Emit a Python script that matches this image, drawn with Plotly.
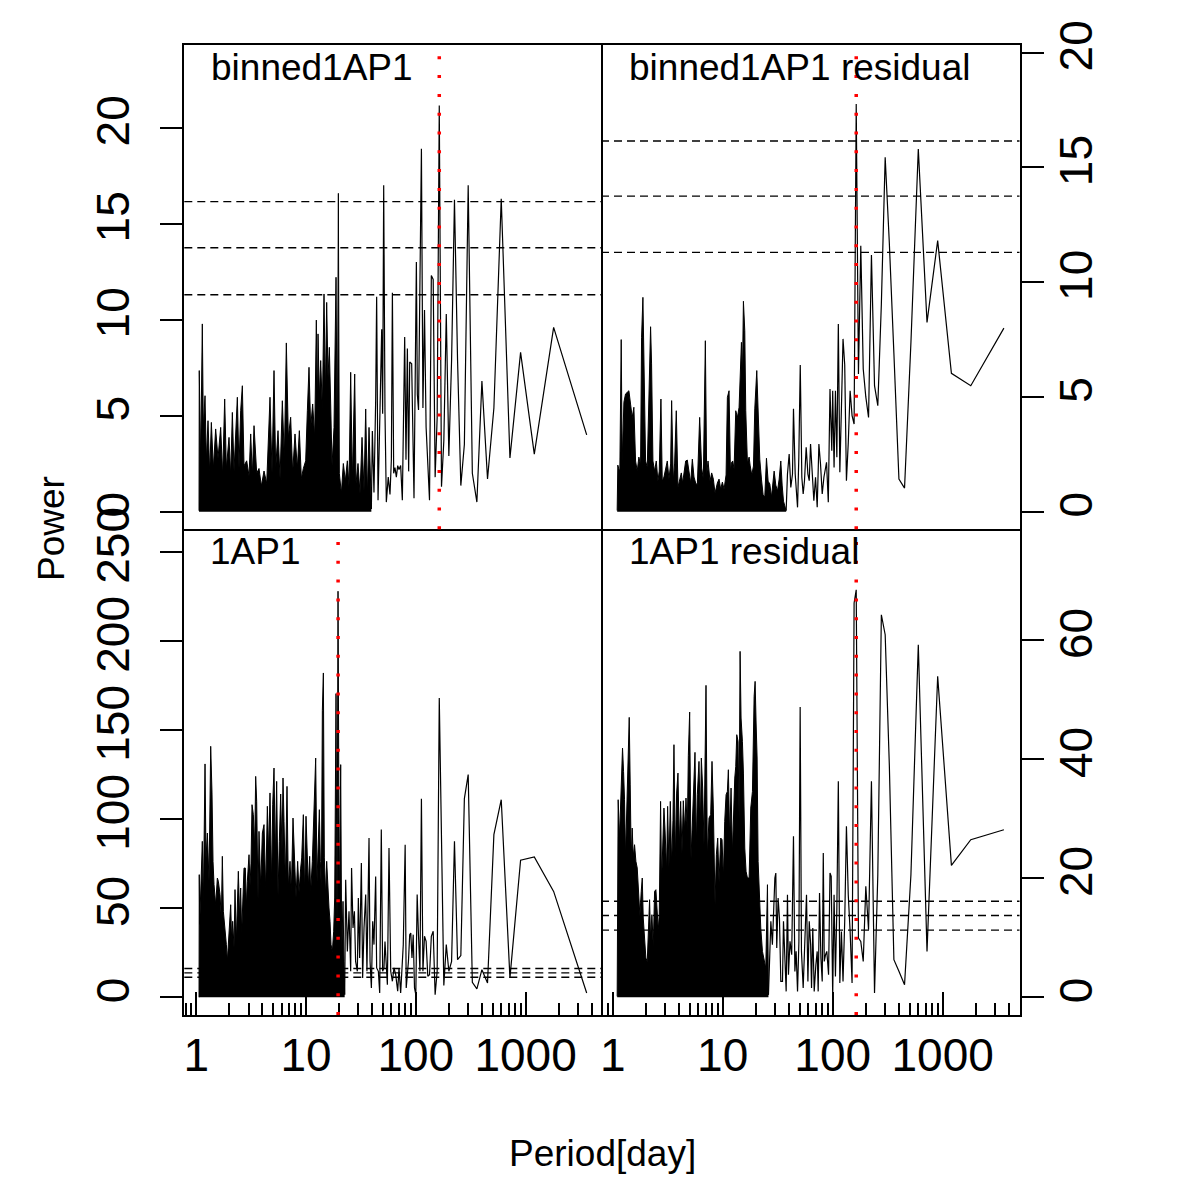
import numpy as np
import plotly.graph_objects as go

# ---------------- data ----------------
thresholds = [11.3, 13.75, 16.15]          # dashed significance levels (all panels)
red_period_tl = 163.6
red_period_tr = 163.6
red_period_bl = 19.6
red_period_br = 163.6

panel_titles = ["binned1AP1", "binned1AP1 residual", "1AP1", "1AP1 residual"]
x_tick_vals = [1, 10, 100, 1000]
x_tick_text = ["1", "10", "100", "1000"]
x_minor_vals = [0.8, 0.9, 2, 3, 4, 5, 6, 7, 8, 9, 20, 30, 40, 50, 60, 70, 80, 90,
                200, 300, 400, 500, 600, 700, 800, 900, 2000, 3000, 4000]
tl_y_ticks = [0, 5, 10, 15, 20]
tr_y_ticks = [0, 5, 10, 15, 20]
bl_y_ticks = [0, 50, 100, 150, 200, 250]
br_y_ticks = [0, 20, 40, 60]

# --- top-left: binned1AP1 ---
tl_dense_period = [1.061, 1.066, 1.098, 1.137, 1.161, 1.203, 1.237, 1.281, 1.327, 1.374, 1.433, 1.504,
                   1.580, 1.671, 1.742, 1.817, 1.882, 1.990, 2.061, 2.134, 2.210, 2.288, 2.370, 2.454,
                   2.541, 2.632, 2.725, 2.882, 3.027, 3.135, 3.246, 3.362, 3.555, 3.733, 3.921, 4.147,
                   4.385, 4.700, 4.904, 5.113, 5.295, 5.560, 5.800, 6.088, 6.349, 6.621, 6.904, 7.250,
                   7.561, 7.940, 8.337, 8.698, 9.070, 9.459, 9.933, 10.29, 10.65, 11.03, 11.50, 11.99,
                   12.42, 12.69, 12.87, 13.23, 13.61, 14.09, 14.59, 15.01, 15.43, 15.87, 16.31, 16.78,
                   17.26, 17.99, 18.77, 19.30, 19.71, 20.12, 20.99, 21.88, 22.82, 23.80, 24.64, 25.52,
                   26.43, 27.76, 28.54, 29.76, 31.04, 32.37, 33.75, 34.96, 36.20, 37.49, 38.82, 39.37]
tl_dense_power = [0.05, 7.35, 2.65, 9.78, 4.39, 6.04, 2.65, 4.74, 2.0, 4.65, 2.25, 4.31,
                  2.78, 4.39, 1.86, 5.87, 2.25, 3.87, 1.86, 5.17, 2.12, 4.4, 5.96, 2.25,
                  5.26, 6.56, 2.39, 2.65, 1.86, 4.05, 1.86, 4.48, 2.0, 2.25, 1.34, 2.12,
                  1.47, 5.96, 2.0, 7.35, 2.25, 4.22, 1.73, 5.78, 2.78, 8.79, 3.87, 4.92,
                  2.0, 4.05, 2.25, 4.22, 1.73, 2.25, 2.65, 5.26, 7.52, 4.39, 5.61, 3.87,
                  9.98, 5.26, 9.26, 5.96, 7.87, 5.26, 11.34, 6.13, 10.9, 7.0, 8.56, 5.61,
                  2.39, 4.39, 12.21, 2.65, 16.58, 2.0, 0.95, 2.51, 1.6, 2.65, 1.34, 7.26,
                  1.6, 7.17, 1.47, 2.51, 0.95, 3.87, 1.08, 5.35, 0.82, 4.39, 0.56, 0.14]
tl_period = [39.37, 40.2, 41.6, 43.1, 44.0, 45.3, 47.2, 48.9, 49.9, 51.0, 52.4, 53.9, 56.1, 58.2, 59.9,
             61.2, 62.9, 64.6, 66.5, 68.4, 70.3, 72.8, 75.4, 79.2, 81.4, 83.8, 86.1, 88.0, 91.7, 96.3,
             101.2, 103.3, 105.9, 112.5, 116.1, 120.0, 124.1, 128.6, 133.3, 138.5, 144.0, 150.0, 156.5,
             163.6, 171.4, 180.0, 189.5, 200.0, 211.8, 225.0, 240.0, 257.1, 276.9, 300.0, 327.3, 360.0,
             400.0, 450.0, 514.3, 600.0, 720.0, 900.0, 1200.0, 1800.0, 3600.0]
tl_power = [0.14, 4.2, 1.0, 5.8, 11.2, 0.6, 5.3, 9.5, 5.1, 17.0, 5.2, 0.5, 1.8, 0.9, 2.7,
            11.4, 2.0, 2.3, 1.8, 2.4, 2.2, 2.4, 0.6, 9.1, 2.7, 8.5, 2.1, 7.8, 7.7, 0.7,
            13.0, 6.1, 5.3, 18.9, 5.4, 10.5, 4.4, 2.0, 0.6, 12.3, 12.1, 1.8, 4.9,
            21.15, 1.3, 3.7, 10.3, 2.9, 7.9, 16.25, 7.9, 1.36, 3.5, 17.0, 2.0, 0.5,
            6.8, 1.7, 5.4, 16.3, 2.8, 8.3, 3.0, 9.6, 4.0]

# --- top-right: binned1AP1 residual ---
tr_dense_period = [1.098, 1.113, 1.137, 1.161, 1.195, 1.220, 1.264, 1.308, 1.355, 1.403, 1.453, 1.504,
                   1.558, 1.614, 1.671, 1.730, 1.792, 1.830, 1.882, 1.921, 1.990, 2.061, 2.134, 2.210,
                   2.256, 2.321, 2.403, 2.489, 2.577, 2.650, 2.744, 2.822, 2.923, 3.027, 3.135, 3.246,
                   3.362, 3.433, 3.555, 3.656, 3.785, 3.921, 4.061, 4.205, 4.324, 4.446, 4.605, 4.768,
                   4.938, 5.113, 5.295, 5.483, 5.678, 5.880, 6.174, 6.437, 6.667, 6.954, 7.150, 7.353,
                   7.667, 7.940, 8.222, 8.516, 8.944, 9.262, 9.591, 9.933, 10.29, 10.73, 11.03, 11.42,
                   11.75, 11.99, 12.33, 12.69, 13.14, 13.61, 14.09, 14.39, 14.80, 15.11, 15.43, 15.87,
                   16.20, 16.78, 17.38, 17.74, 18.38, 19.04, 19.57, 20.41, 20.99, 21.73, 22.50, 23.30,
                   24.13, 24.99, 25.88, 26.80, 27.76, 28.54, 29.35, 30.39, 31.48, 32.60, 33.75, 34.71,
                   35.70, 36.97, 37.75]
tr_dense_power = [0.05, 2.03, 1.86, 1.77, 7.50, 2.21, 4.77, 5.13, 5.20, 5.27, 4.69, 4.11,
                  4.55, 2.21, 1.77, 2.38, 2.03, 7.60, 9.34, 5.86, 2.21, 1.94, 5.13, 8.06,
                  6.44, 2.21, 1.77, 2.21, 1.33, 1.77, 4.91, 1.33, 1.51, 1.86, 2.21, 1.42,
                  2.08, 4.84, 1.33, 2.12, 4.40, 1.07, 1.42, 1.69, 1.25, 1.81, 2.21, 2.25,
                  1.77, 1.25, 2.29, 1.51, 1.25, 1.16, 4.11, 1.90, 1.42, 7.45, 1.60, 2.21,
                  1.33, 1.69, 1.42, 0.81, 1.25, 1.42, 0.98, 1.29, 0.98, 1.60, 4.98, 5.27,
                  1.77, 2.12, 2.21, 1.86, 4.40, 4.11, 4.55, 6.29, 7.38, 5.86, 9.17, 7.89,
                  4.40, 2.12, 2.38, 2.03, 1.60, 1.99, 4.48, 6.15, 4.55, 2.29, 1.42, 0.73,
                  0.64, 2.33, 1.33, 1.21, 0.64, 1.33, 1.77, 1.16, 0.90, 1.42, 2.21, 1.16,
                  0.46, 0.20, 0.05]
tr_period = [37.75, 38.8, 40.2, 41.6, 43.1, 44.0, 45.6, 47.9, 49.2, 50.7, 52.4, 53.9, 55.4, 57.4, 59.5,
             61.2, 62.9, 65.1, 67.4, 69.8, 72.3, 74.9, 77.5, 80.3, 83.2, 87.9, 91.2, 94.5, 98.1, 100.0,
             102.9, 105.9, 109.1, 112.5, 116.1, 120.0, 124.1, 128.6, 133.3, 138.5, 144.0, 150.0, 156.5,
             163.6, 171.4, 180.0, 189.5, 200.0, 211.8, 225.0, 240.0, 257.1, 276.9, 300.0, 327.3, 360.0,
             400.0, 450.0, 514.3, 600.0, 720.0, 900.0, 1200.0, 1800.0, 3600.0]
tr_power = [0.05, 1.64, 2.51, 1.06, 1.64, 4.48, 1.64, 0.19, 2.37, 6.39, 1.50, 0.77, 1.35, 2.81, 1.64,
            1.35, 2.95, 1.50, 0.48, 1.50, 0.19, 2.95, 2.08, 0.77, 1.50, 2.15, 0.41, 5.35, 2.66, 5.27,
            1.93, 5.27, 2.37, 8.18, 1.72, 4.5, 7.53, 6.4, 1.35, 3.0, 5.27, 4.19, 3.82,
            17.77, 6.0, 11.59, 6.22, 5.0, 4.11, 11.19, 5.49, 4.62, 9.05, 15.44, 11.7, 6.9,
            1.42, 1.03, 7.37, 15.8, 8.25, 11.81, 6.03, 5.49, 8.0]

# --- bottom-left: 1AP1 ---
bl_dense_period = [1.061, 1.066, 1.076, 1.137, 1.161, 1.203, 1.228, 1.264, 1.308, 1.355, 1.393, 1.423,
                   1.453, 1.504, 1.558, 1.591, 1.648, 1.694, 1.730, 1.767, 1.817, 1.882, 1.921, 1.962,
                   2.018, 2.061, 2.105, 2.149, 2.210, 2.256, 2.321, 2.370, 2.420, 2.489, 2.541, 2.596,
                   2.650, 2.725, 2.802, 2.862, 2.923, 3.027, 3.092, 3.157, 3.223, 3.315, 3.409, 3.481,
                   3.555, 3.656, 3.733, 3.867, 4.004, 4.147, 4.294, 4.446, 4.572, 4.700, 4.870, 4.973,
                   5.113, 5.257, 5.405, 5.560, 5.717, 5.880, 6.046, 6.174, 6.305, 6.484, 6.714, 6.904,
                   7.150, 7.353, 7.613, 7.884, 8.108, 8.397, 8.638, 8.944, 9.135, 9.459, 9.726, 10.00,
                   10.29, 10.50, 10.80, 11.03, 11.42, 11.83, 12.25, 12.60, 12.96, 13.23, 13.51, 13.80,
                   14.09, 14.39, 14.69, 15.11, 15.43, 15.76, 16.20, 16.55, 16.90, 17.38, 17.87, 18.25,
                   18.77, 19.17, 19.57, 20.12, 20.70, 21.14, 21.73, 22.19, 22.50]
bl_dense_power = [0.0, 68.9, 41.0, 87.6, 52.0, 131.1, 78.0, 92.3, 65.0, 141.0, 114.8, 76.4,
                  63.3, 52.0, 67.0, 65.2, 57.7, 44.0, 79.2, 48.3, 40.8, 29.6, 20.2, 29.6,
                  38.9, 52.0, 31.5, 42.7, 28.0, 60.5, 31.5, 52.0, 70.8, 44.0, 61.4, 36.0,
                  57.7, 72.6, 72.6, 51.0, 65.2, 80.1, 63.0, 75.4, 108.2, 102.6, 84.0, 124.1,
                  110.1, 55.0, 93.2, 62.0, 92.3, 97.0, 60.0, 107.3, 81.0, 114.8, 63.0, 108.2,
                  128.8, 78.0, 121.3, 57.0, 87.6, 114.2, 82.0, 123.2, 98.9, 65.0, 118.5, 62.0,
                  76.4, 59.0, 100.7, 72.6, 56.0, 76.4, 59.0, 72.6, 78.3, 102.6, 57.0, 101.7,
                  76.4, 62.0, 79.2, 59.0, 76.4, 111.0, 134.4, 65.0, 95.1, 105.4, 76.4, 60.0,
                  161.2, 182.2, 78.3, 57.0, 76.4, 62.4, 50.2, 42.7, 29.6, 25.8, 37.1, 55.8,
                  170.6, 38.0, 228.1, 49.0, 130.7, 25.0, 53.9, 20.2, 1.5]
bl_period = [22.50, 22.98, 23.80, 24.64, 25.52, 26.0, 26.8, 27.6, 28.3, 29.35, 29.97, 30.8, 31.93, 32.8,
             33.75, 34.96, 35.9, 37.49, 38.3, 39.4, 40.5, 41.6, 43.1, 44.0, 45.6, 46.9, 48.5, 49.9, 51.3,
             52.4, 55.1, 57.0, 59.1, 61.2, 63.3, 65.6, 68.4, 70.3, 72.8, 75.4, 76.9, 80.0, 81.8, 85.7,
             88.0, 90.0, 92.3, 94.7, 97.3, 100.0, 102.9, 105.9, 109.1, 112.5, 116.1, 120.0, 124.1, 128.6,
             133.3, 138.5, 144.0, 150.0, 156.5, 163.6, 171.4, 180.0, 189.5, 200.0, 211.8, 225.0, 240.0,
             257.1, 276.9, 300.0, 327.3, 360.0, 400.0, 450.0, 514.3, 600.0, 720.0, 900.0, 1200.0, 1800.0,
             3600.0]
bl_power = [1.5, 66.1, 25.8, 48.3, 14.6, 72.6, 38.9, 48.3, 20.2, 14.6, 55.8, 22.1, 75.4, 10.9,
            38.9, 57.7, 14.6, 89.5, 20.2, 5.2, 42.7, 29.6, 67.9, 16.5, 14.6, 2.4, 94.2, 14.6, 16.5,
            31.4, 7.1, 83.9, 14.6, 9.0, 16.5, 12.7, 3.4, 16.5, 2.4, 24.0, 29.6, 85.7, 5.2, 20.2,
            35.2, 36.1, 22.1, 35.2, 5.2, 1.5, 57.7, 34.3, 14.6, 111.6, 14.6, 34.3, 31.4, 11.8,
            12.7, 34.3, 37.1, 1.5, 14.6, 168.1, 75.0, 6.7, 29.6, 14.6, 20.2, 87.6, 21.1,
            23.4, 111.6, 125.1, 8.4, 4.7, 15.5, 8.0, 91.4, 111.0, 10.9, 77.0, 78.8, 59.5,
            2.4]

# --- bottom-right: 1AP1 residual ---
br_dense_period = [1.098, 1.105, 1.121, 1.153, 1.178, 1.203, 1.228, 1.255, 1.281, 1.308, 1.336, 1.374,
                   1.413, 1.443, 1.473, 1.504, 1.536, 1.580, 1.625, 1.671, 1.718, 1.767, 1.817, 1.856,
                   1.895, 1.948, 2.003, 2.061, 2.105, 2.164, 2.210, 2.272, 2.337, 2.403, 2.471, 2.541,
                   2.596, 2.650, 2.725, 2.783, 2.842, 2.923, 2.985, 3.092, 3.157, 3.246, 3.339, 3.433,
                   3.530, 3.605, 3.707, 3.812, 3.921, 4.032, 4.147, 4.264, 4.385, 4.509, 4.637, 4.768,
                   4.870, 5.008, 5.150, 5.295, 5.445, 5.599, 5.757, 5.880, 6.088, 6.261, 6.393, 6.574,
                   6.761, 6.904, 7.049, 7.250, 7.508, 7.775, 7.995, 8.222, 8.516, 8.758, 9.007, 9.262,
                   9.591, 9.863, 10.14, 10.43, 10.73, 11.03, 11.26, 11.58, 11.91, 12.25, 12.60, 12.87,
                   13.14, 13.42, 13.80, 14.09, 14.39, 14.69, 15.11, 15.43, 15.87, 16.31, 16.78, 17.38,
                   17.99, 18.64, 19.30, 19.71, 20.12, 20.55, 20.99, 21.58, 22.19, 22.98, 23.80, 24.64,
                   25.52, 26.06]
br_dense_power = [0.16, 22.57, 33.21, 26.8, 32.65, 38.53, 41.89, 37.97, 33.21, 23.7, 30.13, 34.05,
                  47.05, 35.7, 23.2, 28.45, 23.7, 25.65, 22.85, 21.73, 17.25, 13.7, 17.81, 20.05,
                  13.33, 10.52, 6.60, 6.04, 9.96, 16.41, 9.9, 13.89, 8.5, 17.81, 18.09, 14.45,
                  11.3, 13.89, 32.93, 19.4, 25.09, 31.81, 28.45, 21.3, 32.09, 21.8, 32.93, 22.3,
                  29.68, 42.46, 23.2, 34.33, 37.69, 25.6, 32.93, 24.2, 33.04, 28.0, 33.49, 28.0,
                  40.66, 47.95, 23.2, 29.57, 34.05, 41.17, 25.4, 34.05, 39.65, 28.9, 40.22, 35.17,
                  25.6, 45.26, 52.43, 23.7, 30.13, 30.69, 39.65, 31.81, 15.6, 23.97, 26.77, 19.4,
                  26.77, 26.49, 19.9, 29.57, 34.05, 34.61, 38.25, 26.6, 35.17, 24.2, 31.81, 36.85,
                  38.81, 44.14, 43.02, 29.9, 58.14, 46.94, 43.02, 37.69, 25.09, 21.17, 20.05, 20.05,
                  31.81, 34.61, 50.58, 53.1, 46.1, 40.22, 22.85, 16.69, 11.64, 7.72, 6.04, 4.92,
                  18.93, 0.44]
br_period = [26.06, 26.8, 27.4, 28.3, 28.9, 29.8, 30.4, 31.0, 31.9, 32.8, 33.75, 34.96, 35.7, 36.7, 37.75,
             38.8, 39.6, 40.9, 42.4, 44.0, 45.3, 46.5, 47.9, 49.3, 50.6, 52.0, 53.9, 55.8, 57.8, 59.5,
             61.2, 63.0, 64.2, 65.9, 67.9, 70.3, 72.3, 73.8, 75.9, 78.1, 80.3, 82.1, 83.8, 86.1, 88.4,
             91.7, 94.5, 96.9, 98.7, 100.0, 102.9, 105.9, 109.1, 112.5, 116.1, 120.0, 124.1, 128.6,
             133.3, 138.5, 144.0, 150.0, 156.5, 163.6, 171.4, 180.0, 189.5, 200.0, 211.8, 225.0, 240.0,
             257.1, 276.9, 300.0, 327.3, 360.0, 400.0, 450.0, 514.3, 600.0, 720.0, 900.0, 1200.0,
             1800.0, 3600.0]
br_power = [0.44, 6.6, 12.77, 8.84, 15.0, 20.05, 20.89, 8.3, 16.7, 13.3, 2.68, 2.68, 12.77, 7.72, 1.0,
            17.25, 3.8, 9.4, 7.16, 27.05, 4.36, 7.72, 1.0, 9.4, 48.79, 7.72, 1.56, 9.4, 17.25, 2.68,
            12.77, 8.84, 1.56, 11.64, 1.0, 5.48, 7.72, 1.0, 17.53, 6.6, 2.68, 24.25, 6.04, 7.16, 7.72,
            3.8, 20.89, 20.33, 3.8, 0.16, 17.25, 3.52, 15.0, 36.3, 2.4, 11.08, 2.68, 12.77,
            28.73, 17.25, 11.08, 2.4, 66.27, 68.5, 9.96, 9.4, 6.04, 18.65, 11.36, 36.3, 0.72,
            20.61, 64.3, 60.94, 39.0, 6.32, 4.4, 2.12, 20.6, 59.26, 7.72, 53.94, 22.18,
            26.49, 28.17]

# ---------------- layout geometry (pixels of the 1200x1200 canvas) ----------------
W = H = 1200
FONT = "Liberation Sans, Arial, Helvetica, sans-serif"
X_LEFT, X_MID, X_RIGHT = 184.3, 601.0, 1019.5
Y_TOP, Y_MID, Y_BOT = 44.7, 529.3, 1015.0


def fx(p):
    return p / W


def fy(p):
    return 1 - p / H


fig = go.Figure()

# axis suffixes: '' = bottom-left, '2' = bottom-right, '3' = top-left, '4' = top-right
panels = [
    ("3", tl_dense_period, tl_dense_power, tl_period, tl_power, red_period_tl),
    ("4", tr_dense_period, tr_dense_power, tr_period, tr_power, red_period_tr),
    ("", bl_dense_period, bl_dense_power, bl_period, bl_power, red_period_bl),
    ("2", br_dense_period, br_dense_power, br_period, br_power, red_period_br),
]

shapes = []
for sfx, dp, dy, lp, ly, red in panels:
    xa, ya = "x" + sfx, "y" + sfx
    fig.add_trace(go.Scatter(x=dp, y=dy, mode="lines", xaxis=xa, yaxis=ya,
                             line=dict(color="black", width=1), fill="tozeroy",
                             fillcolor="black", hoverinfo="skip"))
    fig.add_trace(go.Scatter(x=lp, y=ly, mode="lines", xaxis=xa, yaxis=ya,
                             line=dict(color="black", width=1.2), hoverinfo="skip"))
    for t in thresholds:
        shapes.append(dict(type="line", xref=xa + " domain", yref=ya, x0=0, x1=1, y0=t, y1=t,
                           line=dict(color="black", width=1.4, dash="8px,5px")))
    shapes.append(dict(type="line", xref=xa, yref=ya + " domain",
                       x0=red, x1=red, y0=0, y1=1,
                       line=dict(color="red", width=3.5, dash="3px,15.8px")))

base = dict(showgrid=False, zeroline=False, showline=True, linecolor="black", linewidth=1.5,
            mirror=True, automargin=False, tickcolor="black", tickwidth=1.5,
            tickfont=dict(family=FONT, size=46, color="black"))

xb_left = dict(base, type="log", range=[-0.1084, 3.6867], domain=[fx(X_LEFT), fx(X_MID)])
xb_right = dict(base, type="log", range=[-0.1064, 3.6982], domain=[fx(X_MID), fx(X_RIGHT)])
bottom_ticks = dict(ticks="inside", ticklen=23, tickmode="array", tickvals=x_tick_vals,
                    ticktext=x_tick_text, ticklabelstandoff=-1, mirror=False,
                    minor=dict(ticks="inside", ticklen=12, tickwidth=1.5, tickcolor="black",
                               tickmode="array", tickvals=x_minor_vals))
top_ticks = dict(ticks="", showticklabels=False)

yl = dict(base, ticks="outside", ticklen=23, tickangle=-90, tickmode="array")

fig.update_layout(
    width=W, height=H, autosize=False, template="none",
    margin=dict(l=0, r=0, t=0, b=0), showlegend=False,
    paper_bgcolor="white", plot_bgcolor="white",
    xaxis=dict(xb_left, anchor="y", **bottom_ticks),
    xaxis2=dict(xb_right, anchor="y2", **bottom_ticks),
    xaxis3=dict(xb_left, anchor="y3", **top_ticks),
    xaxis4=dict(xb_right, anchor="y4", **top_ticks),
    yaxis=dict(yl, anchor="x", domain=[fy(Y_BOT), fy(Y_MID)], range=[-9.94, 262.9],
               tickvals=bl_y_ticks, side="left", ticklabelstandoff=12),
    yaxis2=dict(yl, anchor="x2", domain=[fy(Y_BOT), fy(Y_MID)], range=[-2.97, 78.66],
                tickvals=br_y_ticks, side="right", ticklabelstandoff=-7, mirror=False),
    yaxis3=dict(yl, anchor="x3", domain=[fy(Y_MID), fy(Y_TOP)], range=[-0.917, 24.323],
                tickvals=tl_y_ticks, side="left", ticklabelstandoff=12),
    yaxis4=dict(yl, anchor="x4", domain=[fy(Y_MID), fy(Y_TOP)], range=[-0.767, 20.349],
                tickvals=tr_y_ticks, side="right", ticklabelstandoff=-7, mirror=False),
    shapes=shapes,
)

label_font = dict(family=FONT, size=37, color="black")
ann = []
label_pos = [(208.5, Y_TOP), (626.5, Y_TOP), (208.5, Y_MID), (626.5, Y_MID)]
for text, (px, py) in zip(panel_titles, label_pos):
    ann.append(dict(text=text, x=fx(px), y=fy(py), xref="paper", yref="paper",
                    xanchor="left", yanchor="top", showarrow=False, font=label_font))
ann.append(dict(text="Power", x=fx(51), y=fy(529), xref="paper", yref="paper",
                xanchor="center", yanchor="middle", textangle=-90, showarrow=False, font=label_font))
ann.append(dict(text="Period[day]", x=fx(602), y=fy(1153), xref="paper", yref="paper",
                xanchor="center", yanchor="middle", showarrow=False, font=label_font))
fig.update_layout(annotations=ann)

fig.write_html("out.html")
